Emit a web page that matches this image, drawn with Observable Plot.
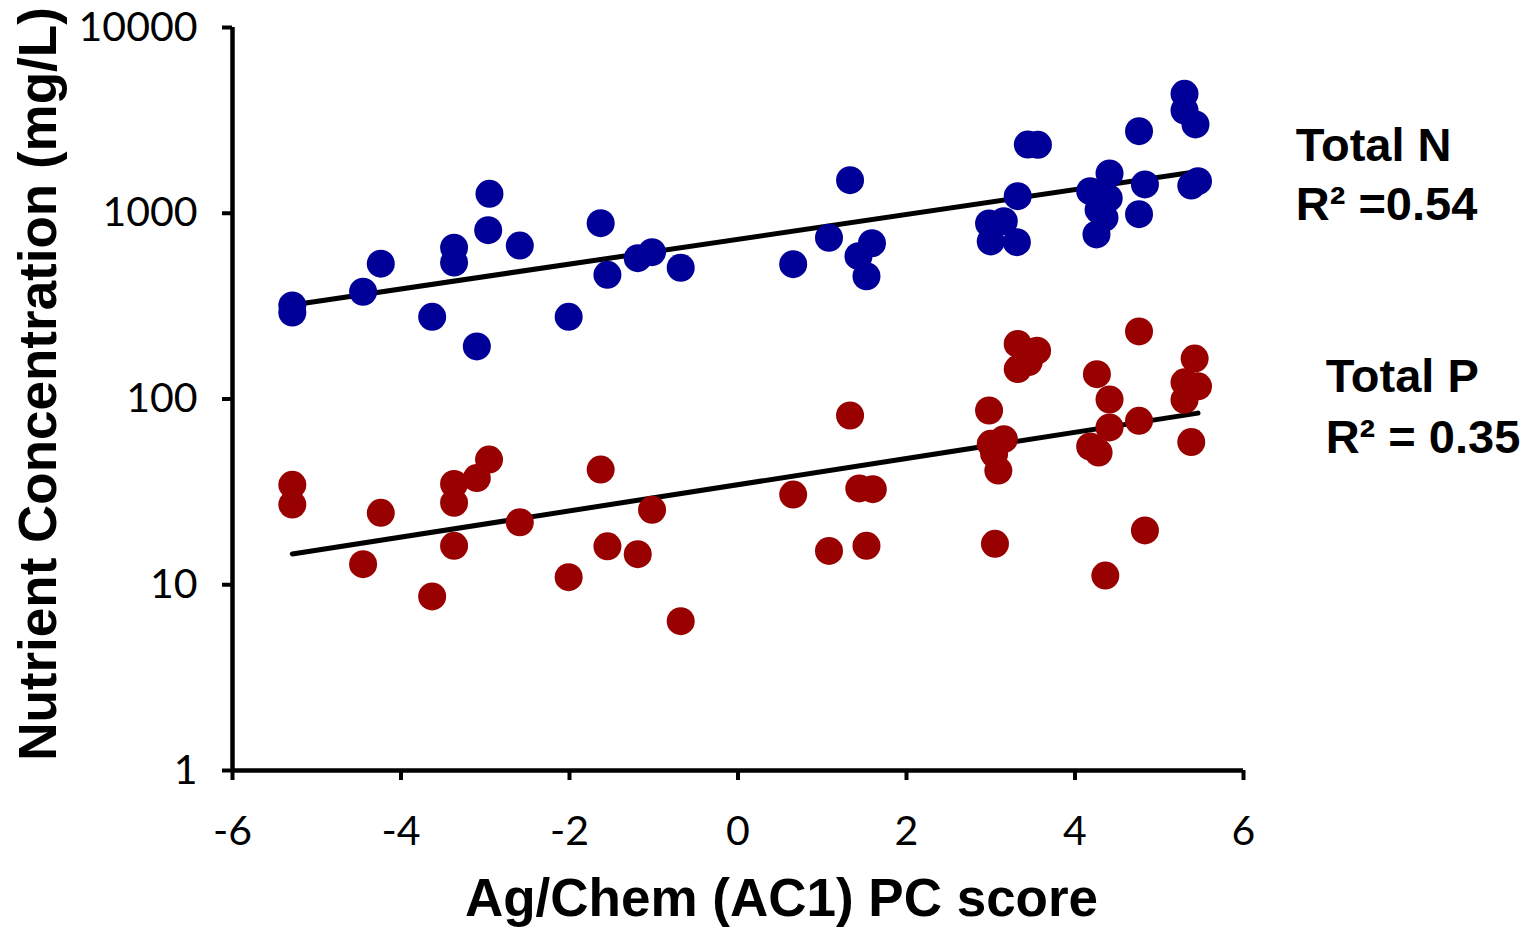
<!DOCTYPE html>
<html>
<head>
<meta charset="utf-8">
<script src="https://cdn.jsdelivr.net/npm/d3@7"></script>
<script src="https://cdn.jsdelivr.net/npm/@observablehq/plot@0.6"></script>
<style>
  html, body { margin: 0; padding: 0; background: #ffffff; }
  #chart { width: 1539px; height: 938px; }
</style>
</head>
<body>
<div id="chart"></div>
<script>
// ---- Data ----
// Total N (blue) : PC score and concentration (mg/L)
const nScore = [-5.29, -5.29, -4.45, -4.24, -3.37, -3.37, -3.63, -2.95, -2.965, -2.59, -3.10,
  -1.63, -1.55, -1.19, -1.02, -0.68, -2.01, 1.33, 0.655, 1.08, 1.59, 1.43, 1.525,
  3.44, 3.56, 3.32, 2.98, 3.155, 3.0, 3.31, 4.18, 4.41, 4.40, 4.28, 4.35, 4.255,
  4.76, 4.83, 4.76, 5.30, 5.30, 5.43, 5.46, 5.38];
const nConc = [319, 292, 378, 535, 652, 543, 277, 1273, 811, 670, 192,
  884, 466, 573, 617, 509, 277, 1507, 532, 738, 690, 587, 458,
  2344, 2335, 1236, 881, 906, 705, 699, 1315, 1637, 1205, 1044, 945, 769,
  2766, 1429, 988, 4397, 3574, 3006, 1489, 1410];

// Total P (red)
const pScore = [-5.29, -5.29, -4.24, -4.45, -3.37, -3.37, -3.10, -2.955, -3.37, -3.63, -2.59,
  -1.63, -1.55, -1.19, -1.02, -2.01, -0.68, 1.33, 0.655, 1.08, 1.44, 1.60, 1.525,
  3.32, 3.55, 3.45, 3.32, 2.98, 3.0, 3.155, 3.04, 3.09, 3.05,
  4.26, 4.41, 4.41, 4.18, 4.28, 4.36, 4.76, 4.76, 4.83,
  5.42, 5.30, 5.46, 5.30, 5.38];
const pConc = [34.5, 27.0, 24.4, 12.9, 34.9, 27.6, 37.5, 47.2, 16.2, 8.65, 21.7,
  41.7, 16.1, 14.6, 25.3, 10.98, 6.37, 81.5, 30.6, 15.2, 33.0, 32.7, 16.2,
  198, 182, 158, 145, 86.7, 57.4, 60.8, 50.7, 41.2, 16.6,
  136, 99.4, 70.3, 55.5, 51.5, 11.2, 231, 76.3, 19.6,
  165, 123, 117, 99, 58.6];

// Axis ticks
const xTicks = [-6, -4, -2, 0, 2, 4, 6];
const yTicks = [1, 10, 100, 1000, 10000];

// Series labels
const seriesNames = ["Total N", "Total P"];
const r2Labels = ["R\u00B2 =0.54", "R\u00B2 = 0.35"];
const xTitle = "Ag/Chem (AC1) PC score";
const yTitle = "Nutrient Concentration (mg/L)";

// ---- Build tables ----
const nData = nScore.map((s, i) => ({score: s, conc: nConc[i]}));
const pData = pScore.map((s, i) => ({score: s, conc: pConc[i]}));

// Exponential (log-linear) least-squares trend, as in a spreadsheet trendline
function expFit(data) {
  const xs = data.map(d => d.score);
  const ls = data.map(d => Math.log10(d.conc));
  const mx = d3.mean(xs), ml = d3.mean(ls);
  const sxy = d3.sum(xs, (x, i) => (x - mx) * (ls[i] - ml));
  const sxx = d3.sum(xs, x => (x - mx) ** 2);
  const b = sxy / sxx, a = ml - b * mx;
  const [x0, x1] = d3.extent(xs);
  return [x0, x1].map(x => ({score: x, conc: Math.pow(10, a + b * x)}));
}
const nTrend = expFit(nData);
const pTrend = expFit(pData);

const labelFont = "'Liberation Sans', Arial, Helvetica, sans-serif";
const tickFont = "Lato, 'DejaVu Sans', sans-serif";

const annotations = [
  {score: 6.62, conc: 2290, text: seriesNames[0]},
  {score: 6.62, conc: 1115, text: r2Labels[0]},
  {score: 6.975, conc: 131, text: seriesNames[1]},
  {score: 6.975, conc: 62, text: r2Labels[1]}
];

const chart = Plot.plot({
  width: 1539,
  height: 938,
  marginLeft: 232,
  marginRight: 296,
  marginTop: 27,
  marginBottom: 168,
  style: {background: "#ffffff", fontFamily: labelFont, color: "#000"},
  x: {domain: [-6, 6]},
  y: {type: "log", domain: [1, 10000]},
  marks: [
    Plot.axisX({ticks: xTicks, tickFormat: d => String(d), tickSize: 10, tickPadding: 35,
      strokeWidth: 4, fontSize: 41, fontFamily: tickFont, label: null}),
    Plot.axisY({ticks: yTicks, tickFormat: d => String(d), tickSize: 10, tickPadding: 25,
      strokeWidth: 4, fontSize: 41, fontFamily: tickFont, label: null}),
    Plot.ruleX([-6], {y1: 1, y2: 10000, stroke: "#000", strokeWidth: 4.5}),
    Plot.ruleY([1], {x1: -6, x2: 6, stroke: "#000", strokeWidth: 4.5}),
    Plot.line(nTrend, {x: "score", y: "conc", stroke: "#000", strokeWidth: 5}),
    Plot.line(pTrend, {x: "score", y: "conc", stroke: "#000", strokeWidth: 5}),
    Plot.dot(nData, {x: "score", y: "conc", r: 14, fill: "#000099", stroke: "none"}),
    Plot.dot(pData, {x: "score", y: "conc", r: 14, fill: "#990000", stroke: "none"}),
    Plot.text(annotations, {x: "score", y: "conc", text: "text", textAnchor: "start",
      fontSize: 47, fontWeight: "bold", fontFamily: labelFont, fill: "#000", clip: false}),
    Plot.text([xTitle], {frameAnchor: "bottom", dx: 43.5, dy: 145, lineAnchor: "bottom",
      textAnchor: "middle", fontSize: 53, fontWeight: "bold", fontFamily: labelFont, fill: "#000"}),
    Plot.text([yTitle], {frameAnchor: "left", dx: -177, dy: -15, rotate: -90, lineAnchor: "bottom",
      textAnchor: "middle", fontSize: 53, fontWeight: "bold", fontFamily: labelFont, fill: "#000"})
  ]
});
document.getElementById("chart").appendChild(chart);
</script>
</body>
</html>
